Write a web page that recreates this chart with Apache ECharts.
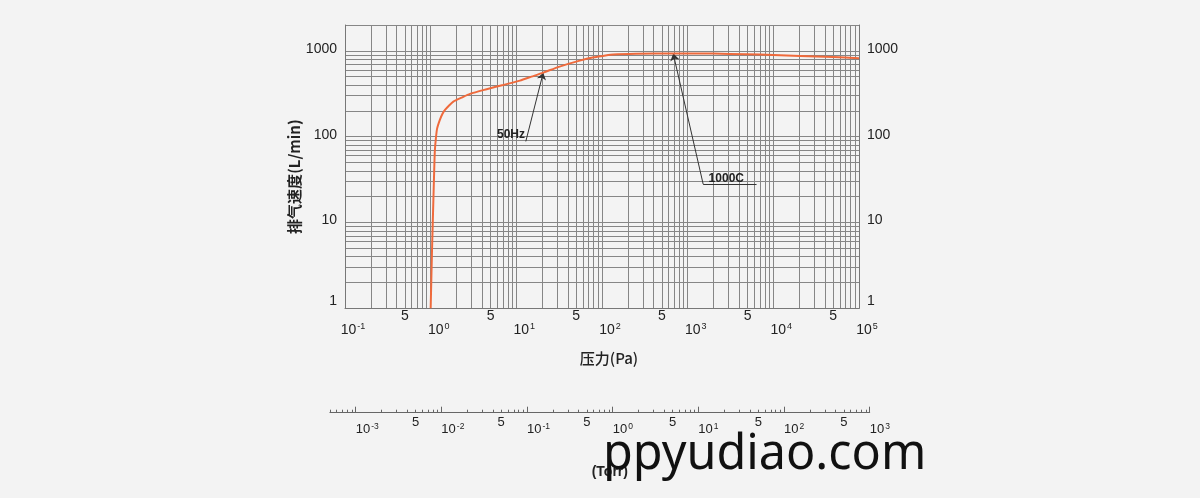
<!DOCTYPE html>
<html>
<head>
<meta charset="utf-8">
<script src="https://cdn.jsdelivr.net/npm/echarts@6/dist/echarts.min.js"></script>
<style>
html,body{margin:0;padding:0;background:#f3f3f3;}
#chart{width:1200px;height:498px;}
</style>
</head>
<body>
<div id="chart"></div>
<script>
// ---- data ----
const pressurePa = [1.0, 1.035, 1.06, 1.10, 1.12, 1.15, 1.19, 1.28, 1.37, 1.47, 1.62, 1.84, 2.3, 2.88, 4.5, 7.0, 11, 15, 20.6, 32, 55, 80, 103, 135, 250, 680, 2000, 4860, 10000, 20500, 50000, 100000];
const speedLmin  = [1,   4.4,   10.7, 41,   70,   95,   125,  157,  184,  205,  228,  256,  285, 315,  357, 400, 450, 500, 557, 655, 769, 840, 872, 905, 925, 932, 928, 913, 895, 873, 845, 820];

// axis ranges and tick labels
const paRange = [0.1, 100000];
const paDecades = [0.1, 1, 10, 100, 1000, 10000, 100000];
const paExponents = ['-1', '0', '1', '2', '3', '4', '5'];
const paFives = [0.5, 5, 50, 500, 5000, 50000];
const speedRange = [1, 2000];
const speedDecades = [1, 10, 100, 1000];
const speedLabels = ['1', '10', '100', '1000'];
const torrRange = [0.0005, 1000];
const torrDecades = [0.001, 0.01, 0.1, 1, 10, 100, 1000];
const torrExponents = ['-3', '-2', '-1', '0', '1', '2', '3'];
const torrFives = [0.005, 0.05, 0.5, 5, 50, 500];

// annotations (data coordinates)
const annoText = ['50Hz', '1000C'];
const annoTextAt = [[8.67, 104.6], [2825, 32.7]];
const annoFrom = [[12.9, 88], [1517, 28]];
const annoTo = [[20.6, 557], [678, 930]];
const annoUnderline = [null, [[1517, 28], [6370, 28]]];

// log-grid positions 1..9 per decade
function logGrid(lo, hi) {
  const out = [];
  for (let d = lo; d < hi * 0.999; d *= 10) {
    for (let k = 1; k <= 9; k++) {
      const v = +(k * d).toPrecision(6);
      if (v >= lo * 0.999 && v <= hi * 1.001) out.push(v);
    }
  }
  out.push(hi);
  return out;
}
const paGrid = logGrid(0.1, 100000);
const speedGrid = logGrid(1, 1000).concat([2000]);
const torrMinor = logGrid(0.0001, 1000).filter(v => v >= 0.0005 && v <= 1000 && torrDecades.indexOf(v) < 0);

const TXT = '#222';
const GRIDC = '#868686';
const FONT = '"Liberation Sans", Arial, sans-serif';

const supRich = (base, sup, lh) => ({
  b: {fontSize: base, fontFamily: FONT, color: TXT, lineHeight: lh},
  s: {fontSize: sup, fontFamily: FONT, color: TXT, lineHeight: sup + 1, verticalAlign: 'top', padding: [0, 0, 0, 1]}
});

function findIdx(arr, v) {
  let best = 0, bd = Infinity;
  arr.forEach((a, i) => { const d = Math.abs(Math.log10(a) - Math.log10(v)); if (d < bd) { bd = d; best = i; } });
  return best;
}

const chart = echarts.init(document.getElementById('chart'), null, {renderer: 'canvas'});

const mainGridH = 308.3 - 25;
const torrGridH = 10;

const markLines = [];
annoText.forEach((t, i) => {
  markLines.push([{coord: annoFrom[i], symbol: 'none'}, {coord: annoTo[i], symbol: 'arrow'}]);
  if (annoUnderline[i]) {
    markLines.push([{coord: annoUnderline[i][0], symbol: 'none'}, {coord: annoUnderline[i][1], symbol: 'none'}]);
  }
});

const option = {
  backgroundColor: '#f3f3f3',
  animation: false,
  title: {
    text: 'ppyudiao.com',
    left: 603, top: 431, padding: 0, z: 20,
    textStyle: {fontFamily: '"Noto Sans", sans-serif', fontSize: 48.5, fontWeight: 'normal', color: '#111'}
  },
  grid: [
    {left: 345, right: 341, top: 25, bottom: 498 - 308.3, outerBoundsMode: 'none', containLabel: false},
    {left: 329.9, right: 330.3, top: 412.7 - torrGridH, bottom: 498 - 412.7, outerBoundsMode: 'none', containLabel: false}
  ],
  xAxis: [
    {
      gridIndex: 0, type: 'log', logBase: 10, min: paRange[0], max: paRange[1], position: 'bottom',
      axisLine: {show: true, lineStyle: {color: '#777', width: 1}},
      axisTick: {show: false, customValues: paGrid},
      splitLine: {show: true, lineStyle: {color: GRIDC, width: 1}},
      axisLabel: {
        customValues: paDecades, margin: 14, padding: [0, 0, 0, 16],
        formatter: v => '{b|10}{s|' + paExponents[findIdx(paDecades, v)] + '}',
        rich: supRich(14, 9, 16)
      },
      name: '压力(Pa)', nameLocation: 'middle', nameGap: 42,
      nameTextStyle: {fontSize: 15, color: TXT, fontFamily: '"Noto Sans CJK SC", sans-serif', fontWeight: 500, padding: [0, 0, 0, 14]}
    },
    {
      gridIndex: 0, type: 'log', logBase: 10, min: paRange[0], max: paRange[1], position: 'top', offset: -mainGridH,
      axisLine: {show: false}, axisTick: {show: false}, splitLine: {show: false},
      axisLabel: {customValues: paFives, inside: true, margin: 1, formatter: () => '5', fontSize: 14, fontFamily: FONT, color: TXT}
    },
    {
      gridIndex: 1, type: 'log', logBase: 10, min: torrRange[0], max: torrRange[1], position: 'bottom',
      axisLine: {show: true, lineStyle: {color: '#666', width: 1}},
      axisTick: {show: true, inside: true, length: 6, customValues: torrDecades, lineStyle: {color: '#666', width: 1}},
      splitLine: {show: false},
      axisLabel: {
        customValues: torrDecades, margin: 9, align: 'left',
        formatter: v => '{b|10}{s|' + torrExponents[findIdx(torrDecades, v)] + '}',
        rich: supRich(13, 8.5, 15)
      },
      name: '(Torr)', nameLocation: 'middle', nameGap: 52,
      nameTextStyle: {fontSize: 14, color: TXT, fontFamily: FONT, fontWeight: 'bold', padding: [0, 0, 0, 20]}
    },
    {
      gridIndex: 1, type: 'log', logBase: 10, min: torrRange[0], max: torrRange[1], position: 'top', offset: -torrGridH,
      axisLine: {show: false},
      axisTick: {show: true, inside: false, length: 3, customValues: torrMinor, lineStyle: {color: '#666', width: 1}},
      splitLine: {show: false},
      axisLabel: {customValues: torrFives, inside: true, margin: 3, formatter: () => '5', fontSize: 13, fontFamily: FONT, color: TXT}
    }
  ],
  yAxis: [
    {
      gridIndex: 0, type: 'log', logBase: 10, min: speedRange[0], max: speedRange[1], position: 'left',
      axisLine: {show: true, lineStyle: {color: '#777', width: 1}},
      axisTick: {show: false, customValues: speedGrid},
      splitLine: {show: true, lineStyle: {color: GRIDC, width: 1}},
      axisLabel: {
        customValues: speedDecades, margin: 8,
        formatter: v => { const i = findIdx(speedDecades, v); return (i === 0 ? '{o|' : '{n|') + speedLabels[i] + '}'; },
        rich: {
          n: {fontSize: 14, fontFamily: FONT, color: TXT, padding: [0, 0, 4, 0]},
          o: {fontSize: 14, fontFamily: FONT, color: TXT, padding: [0, 0, 14, 0]}
        }
      },
      name: '排气速度(L/min)', nameLocation: 'middle', nameGap: 39,
      nameTextStyle: {fontSize: 15, color: TXT, fontFamily: '"Noto Sans CJK SC", sans-serif', fontWeight: 'bold', padding: [0, 20, 0, 0]}
    },
    {
      gridIndex: 0, type: 'log', logBase: 10, min: speedRange[0], max: speedRange[1], position: 'right',
      axisLine: {show: true, lineStyle: {color: '#777', width: 1}},
      axisTick: {show: false},
      splitLine: {show: false},
      axisLabel: {
        customValues: speedDecades, margin: 8,
        formatter: v => { const i = findIdx(speedDecades, v); return (i === 0 ? '{o|' : '{n|') + speedLabels[i] + '}'; },
        rich: {
          n: {fontSize: 14, fontFamily: FONT, color: TXT, padding: [0, 0, 4, 0]},
          o: {fontSize: 14, fontFamily: FONT, color: TXT, padding: [0, 0, 14, 0]}
        }
      }
    },
    {gridIndex: 1, type: 'value', min: 0, max: 1, show: false}
  ],
  series: [{
    type: 'line',
    xAxisIndex: 0, yAxisIndex: 0,
    data: pressurePa.map((p, i) => [p, speedLmin[i]]),
    showSymbol: false, symbol: 'none',
    smooth: 0.25,
    lineStyle: {color: '#ef6a3c', width: 2},
    z: 5,
    markLine: {
      silent: true, animation: false,
      symbol: ['none', 'arrow'], symbolSize: 7,
      label: {show: false},
      lineStyle: {color: '#333', width: 1, type: 'solid'},
      data: markLines
    },
    markPoint: {
      silent: true, animation: false,
      symbol: 'rect', symbolSize: 1,
      itemStyle: {color: 'rgba(0,0,0,0)'},
      label: {show: true, position: 'inside', formatter: p => p.name, fontSize: 12, fontWeight: 'bold', fontFamily: FONT, color: TXT},
      data: annoText.map((t, i) => ({name: t, coord: annoTextAt[i]}))
    }
  }]
};
chart.setOption(option);
</script>
</body>
</html>
